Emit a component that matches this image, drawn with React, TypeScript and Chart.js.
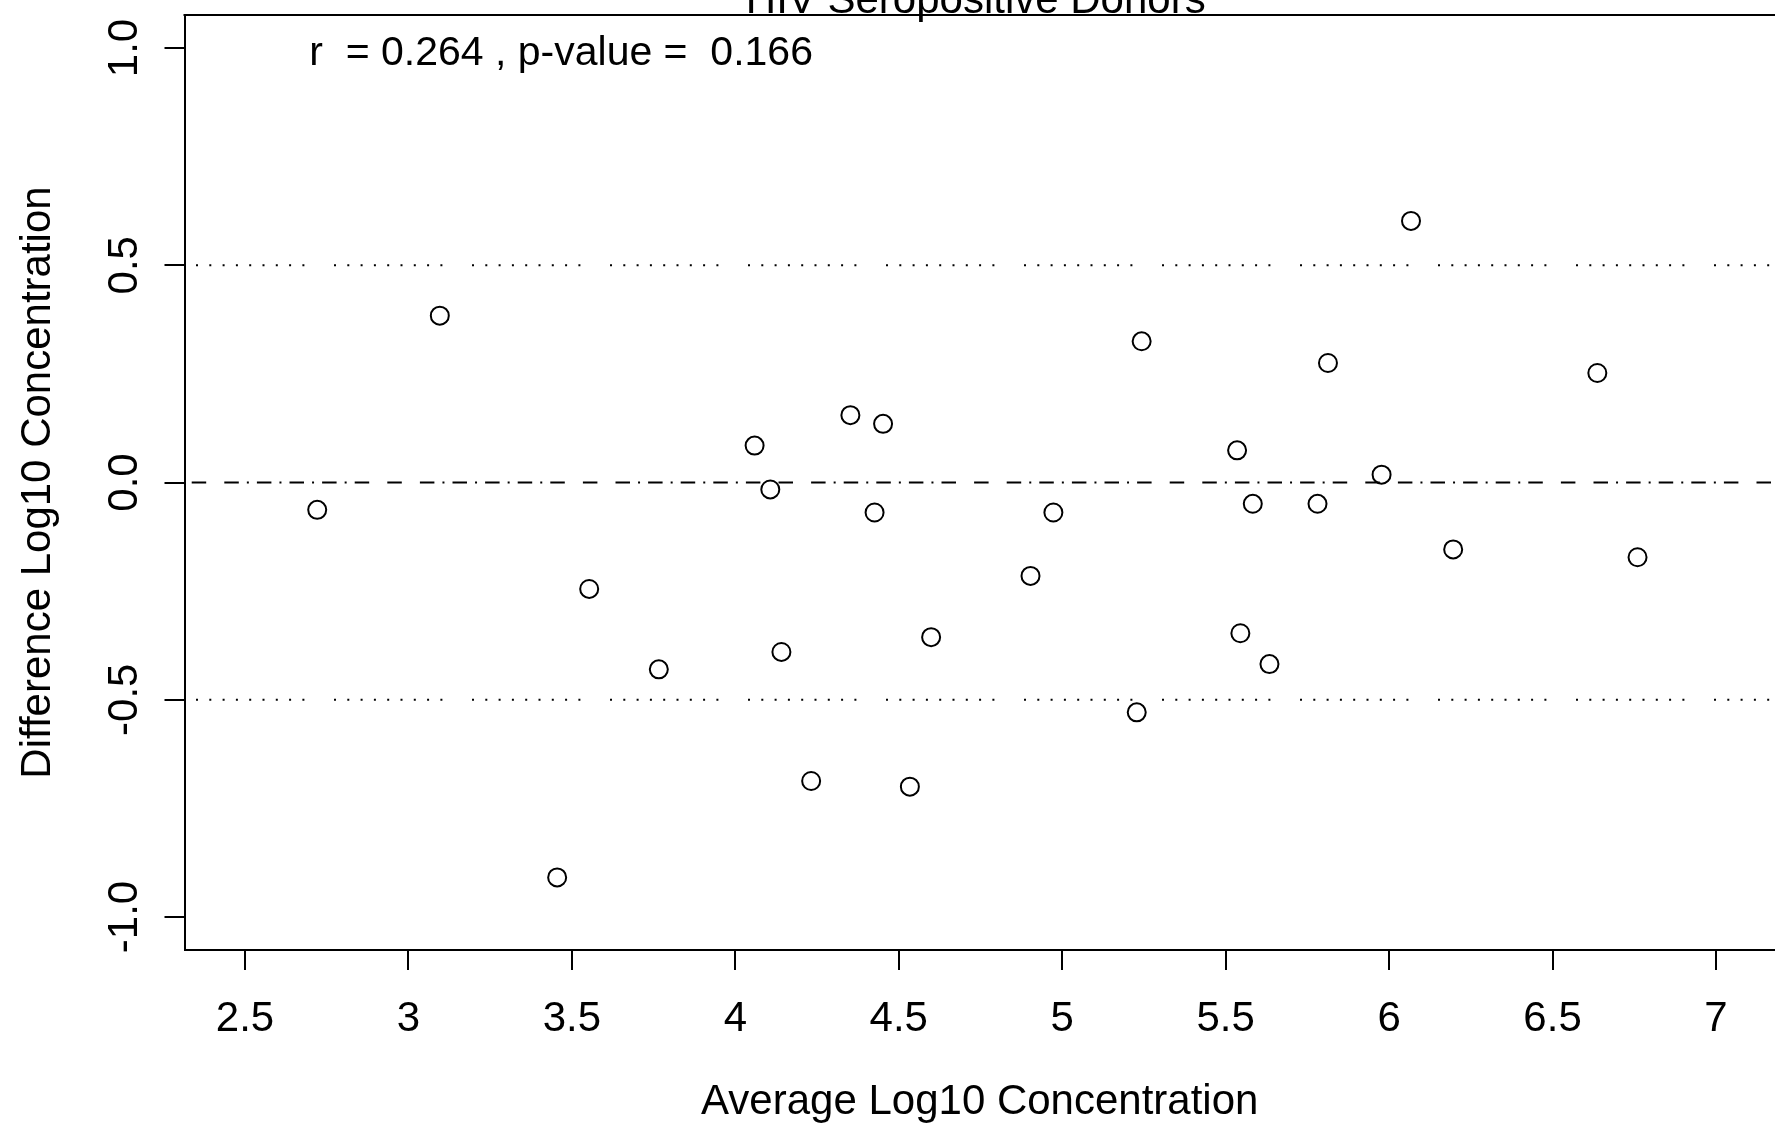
import React, { useEffect, useRef } from 'react';
import { Chart, registerables } from 'chart.js';

Chart.register(...registerables);

const FONT = '"Liberation Sans", Arial, Helvetica, sans-serif';

// Data
const avgConc = [2.721, 3.096, 3.455, 3.553, 3.766, 4.059, 4.107, 4.141, 4.232, 4.352, 4.426, 4.452, 4.534, 4.599, 4.903, 4.973, 5.228, 5.243, 5.535, 5.545, 5.583, 5.634, 5.781, 5.813, 5.977, 6.067, 6.196, 6.637, 6.760];
const diffConc = [-0.063, 0.384, -0.909, -0.245, -0.430, 0.085, -0.016, -0.390, -0.687, 0.155, -0.069, 0.135, -0.700, -0.356, -0.215, -0.069, -0.529, 0.325, 0.074, -0.347, -0.049, -0.418, -0.049, 0.275, 0.018, 0.602, -0.154, 0.252, -0.172];

const xTicks = [2.5, 3, 3.5, 4, 4.5, 5, 5.5, 6, 6.5, 7];
const xTickLabels = ['2.5', '3', '3.5', '4', '4.5', '5', '5.5', '6', '6.5', '7'];
const yTicks = [-1, -0.5, 0, 0.5, 1];
const yTickLabels = ['-1.0', '-0.5', '0.0', '0.5', '1.0'];

const limitLevels = [0.5, -0.5];
const meanLevel = 0;

const X_MIN = 2.315;
const X_MAX = 7.1805;
const Y_MIN = -1.076;
const Y_MAX = 1.076;

const mainTitle = 'HIV Seropositive Donors';
const xTitle = 'Average Log10 Concentration';
const yTitle = 'Difference Log10 Concentration';
const annotText = 'r  = 0.264 , p-value =  0.166';
const annotX = 3.467;
const annotY = 0.987;

const dotPattern: number[] = [];
for (let i = 0; i < 8; i++) dotPattern.push(2, 11.3);
dotPattern.push(2, 29.6);

const dashDotPattern: number[] = [14.5, 18.1];
for (let i = 0; i < 4; i++) dashDotPattern.push(14.5, 8.05, 2, 8.05);
dashDotPattern.push(14.5, 18.1);

const overlay = {
  id: 'overlay',
  afterDraw(chart: any) {
    const { ctx, chartArea, scales } = chart;
    const xs = scales.x;
    const ys = scales.y;
    ctx.save();
    // top border of the box
    ctx.strokeStyle = '#000';
    ctx.lineWidth = 2;
    ctx.beginPath();
    ctx.moveTo(chartArea.left - 1, chartArea.top);
    ctx.lineTo(chartArea.right, chartArea.top);
    ctx.stroke();

    ctx.fillStyle = '#000';
    ctx.font = `42px ${FONT}`;
    // rotated y tick labels
    ctx.textAlign = 'center';
    ctx.textBaseline = 'middle';
    ys.ticks.forEach((t: any) => {
      const idx = yTicks.indexOf(t.value);
      const label = idx >= 0 ? yTickLabels[idx] : String(t.value);
      const py = ys.getPixelForValue(t.value);
      ctx.save();
      ctx.translate(chartArea.left - 59, py);
      ctx.rotate(-Math.PI / 2);
      ctx.fillText(label, 0, 0);
      ctx.restore();
    });

    // main title (partly cut off at the top)
    ctx.textBaseline = 'alphabetic';
    ctx.fillText(mainTitle, (chartArea.left + chartArea.right) / 2 - 4, 13);

    // correlation annotation
    ctx.font = `41px ${FONT}`;
    ctx.textBaseline = 'middle';
    ctx.fillText(annotText, xs.getPixelForValue(annotX), ys.getPixelForValue(annotY));
    ctx.restore();
  },
};

export default function App() {
  const canvasRef = useRef<HTMLCanvasElement | null>(null);

  useEffect(() => {
    const canvas = canvasRef.current;
    if (!canvas) return;

    const points = avgConc.map((x, i) => ({ x, y: diffConc[i] }));

    const lineDs = (level: number, dash: number[], offset: number) => ({
      data: [
        { x: X_MIN, y: level },
        { x: X_MAX, y: level },
      ],
      showLine: true,
      pointRadius: 0,
      borderColor: '#000',
      borderWidth: 2,
      borderDash: dash,
      borderDashOffset: offset,
      borderCapStyle: 'butt',
      tension: 0,
      fill: false,
    });

    const chart = new Chart(canvas, {
      type: 'scatter',
      data: {
        datasets: [
          {
            data: points,
            pointStyle: 'circle',
            pointRadius: 9,
            pointHoverRadius: 9,
            borderWidth: 2,
            borderColor: '#000',
            backgroundColor: 'rgba(0,0,0,0)',
          } as any,
          lineDs(limitLevels[0], dotPattern, 138 - 11.5) as any,
          lineDs(meanLevel, dashDotPattern, 195.6 - 7.2) as any,
          lineDs(limitLevels[1], dotPattern, 138 - 11.5) as any,
        ],
      },
      options: {
        responsive: false,
        animation: false,
        devicePixelRatio: 1,
        events: [],
        layout: { autoPadding: false, padding: { top: 15, left: 0, right: 0, bottom: 0 } },
        plugins: {
          legend: { display: false },
          tooltip: { enabled: false },
          title: { display: false },
        },
        scales: {
          x: {
            type: 'linear',
            min: X_MIN,
            max: X_MAX,
            afterBuildTicks: (scale: any) => {
              scale.ticks = xTicks.map((v) => ({ value: v }));
            },
            afterFit: (scale: any) => {
              scale.height = 176;
              scale.paddingLeft = 0;
              scale.paddingRight = 0;
              scale.paddingTop = 0;
              scale.paddingBottom = 0;
            },
            grid: {
              drawOnChartArea: false,
              drawTicks: true,
              tickLength: 20,
              color: '#000',
              lineWidth: 2,
            },
            border: { display: true, color: '#000', width: 2 },
            ticks: {
              color: '#000',
              font: { size: 42, family: FONT, lineHeight: 1.2 },
              padding: 24,
              maxRotation: 0,
              minRotation: 0,
              autoSkip: false,
              callback: (value: any) => {
                const idx = xTicks.indexOf(Number(value));
                return idx >= 0 ? xTickLabels[idx] : String(value);
              },
            },
            title: {
              display: true,
              text: xTitle,
              color: '#000',
              font: { size: 42, family: FONT, lineHeight: 1.1 },
              padding: { top: 0, bottom: 0 },
            },
          },
          y: {
            type: 'linear',
            min: Y_MIN,
            max: Y_MAX,
            afterBuildTicks: (scale: any) => {
              scale.ticks = yTicks.map((v) => ({ value: v }));
            },
            afterFit: (scale: any) => {
              scale.width = 184.5;
              scale.paddingLeft = 0;
              scale.paddingRight = 0;
              scale.paddingTop = 0;
              scale.paddingBottom = 0;
            },
            grid: {
              drawOnChartArea: false,
              drawTicks: true,
              tickLength: 20,
              color: '#000',
              lineWidth: 2,
            },
            border: { display: true, color: '#000', width: 2 },
            ticks: { display: false },
            title: {
              display: true,
              text: yTitle,
              color: '#000',
              font: { size: 42, family: FONT, lineHeight: 1.2 },
              padding: { top: 13, bottom: 0 },
            },
          },
        },
      } as any,
      plugins: [overlay],
    });

    return () => {
      chart.destroy();
    };
  }, []);

  return (
    <div
      style={{
        position: 'fixed',
        left: 0,
        top: 0,
        width: 1775,
        height: 1126,
        background: '#fff',
        overflow: 'hidden',
      }}
    >
      <canvas ref={canvasRef} width={1775} height={1126} style={{ display: 'block' }} />
    </div>
  );
}
